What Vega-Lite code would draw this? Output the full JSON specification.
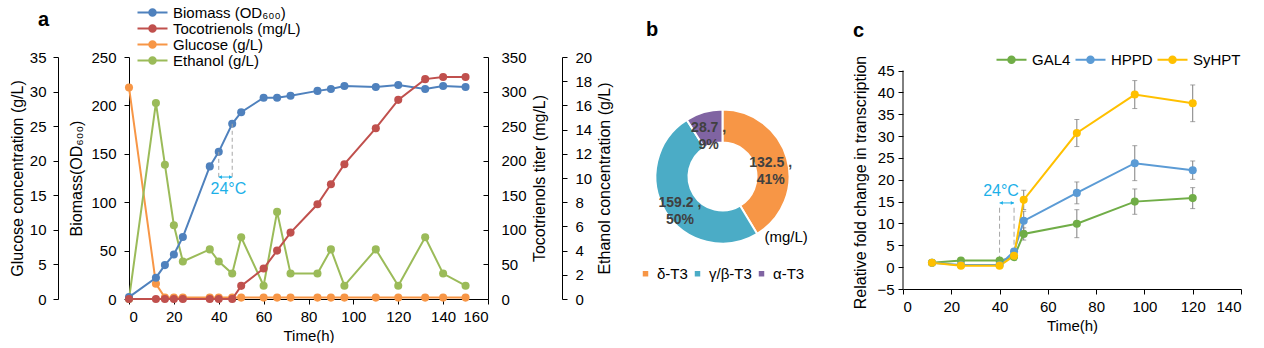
{
  "$schema": "https://vega.github.io/schema/vega-lite/v6.json",
  "padding": {"left": 9, "top": 5, "right": 0, "bottom": 0},
  "config": {
    "font": "Liberation Sans",
    "view": {"stroke": null},
    "axis": {"grid": false, "domainColor": "#000", "tickColor": "#000", "labelColor": "#000", "titleColor": "#000", "labelFontSize": 15, "titleFontSize": 15, "titleFontWeight": "normal", "tickSize": 5, "labelPadding": 5, "domainWidth": 1, "tickWidth": 1},
    "axisY": {"titleFontSize": 16},
    "legend": {"labelFontSize": 15, "labelColor": "#000", "padding": 0},
    "title": {"color": "#000"}
  },
  "spacing": 25,
  "resolve": {"scale": {"color": "independent"}, "legend": {"color": "independent"}},
  "hconcat": [
    {
      "width": 359, "height": 242,
      "title": {"text": "a", "anchor": "start", "frame": "group", "fontSize": 20, "fontWeight": "bold", "offset": -25, "dx": -91},
      "data": {"values": [
        {"s": "Biomass (OD₆₀₀)", "t": 0, "v": 2}, {"s": "Biomass (OD₆₀₀)", "t": 12, "v": 22}, {"s": "Biomass (OD₆₀₀)", "t": 16, "v": 35}, {"s": "Biomass (OD₆₀₀)", "t": 20, "v": 46}, {"s": "Biomass (OD₆₀₀)", "t": 24, "v": 64}, {"s": "Biomass (OD₆₀₀)", "t": 36, "v": 137}, {"s": "Biomass (OD₆₀₀)", "t": 40, "v": 152}, {"s": "Biomass (OD₆₀₀)", "t": 46, "v": 181}, {"s": "Biomass (OD₆₀₀)", "t": 50, "v": 193}, {"s": "Biomass (OD₆₀₀)", "t": 60, "v": 208}, {"s": "Biomass (OD₆₀₀)", "t": 66, "v": 208}, {"s": "Biomass (OD₆₀₀)", "t": 72, "v": 210}, {"s": "Biomass (OD₆₀₀)", "t": 84, "v": 215}, {"s": "Biomass (OD₆₀₀)", "t": 90, "v": 217}, {"s": "Biomass (OD₆₀₀)", "t": 96, "v": 220}, {"s": "Biomass (OD₆₀₀)", "t": 110, "v": 219}, {"s": "Biomass (OD₆₀₀)", "t": 120, "v": 221}, {"s": "Biomass (OD₆₀₀)", "t": 132, "v": 217}, {"s": "Biomass (OD₆₀₀)", "t": 140, "v": 220}, {"s": "Biomass (OD₆₀₀)", "t": 150, "v": 219},
        {"s": "Tocotrienols (mg/L)", "t": 0, "v": 0}, {"s": "Tocotrienols (mg/L)", "t": 12, "v": 0}, {"s": "Tocotrienols (mg/L)", "t": 16, "v": 0}, {"s": "Tocotrienols (mg/L)", "t": 20, "v": 0}, {"s": "Tocotrienols (mg/L)", "t": 24, "v": 0}, {"s": "Tocotrienols (mg/L)", "t": 36, "v": 0}, {"s": "Tocotrienols (mg/L)", "t": 40, "v": 0}, {"s": "Tocotrienols (mg/L)", "t": 46, "v": 0}, {"s": "Tocotrienols (mg/L)", "t": 50, "v": 19}, {"s": "Tocotrienols (mg/L)", "t": 60, "v": 44}, {"s": "Tocotrienols (mg/L)", "t": 66, "v": 70}, {"s": "Tocotrienols (mg/L)", "t": 72, "v": 96}, {"s": "Tocotrienols (mg/L)", "t": 84, "v": 137}, {"s": "Tocotrienols (mg/L)", "t": 90, "v": 166}, {"s": "Tocotrienols (mg/L)", "t": 96, "v": 195}, {"s": "Tocotrienols (mg/L)", "t": 110, "v": 247}, {"s": "Tocotrienols (mg/L)", "t": 120, "v": 288}, {"s": "Tocotrienols (mg/L)", "t": 132, "v": 318}, {"s": "Tocotrienols (mg/L)", "t": 140, "v": 321}, {"s": "Tocotrienols (mg/L)", "t": 150, "v": 321},
        {"s": "Glucose (g/L)", "t": 0, "v": 30.6}, {"s": "Glucose (g/L)", "t": 12, "v": 2.2}, {"s": "Glucose (g/L)", "t": 16, "v": 0.2}, {"s": "Glucose (g/L)", "t": 20, "v": 0.2}, {"s": "Glucose (g/L)", "t": 24, "v": 0.2}, {"s": "Glucose (g/L)", "t": 36, "v": 0.2}, {"s": "Glucose (g/L)", "t": 40, "v": 0.2}, {"s": "Glucose (g/L)", "t": 46, "v": 0.2}, {"s": "Glucose (g/L)", "t": 50, "v": 0.2}, {"s": "Glucose (g/L)", "t": 60, "v": 0.2}, {"s": "Glucose (g/L)", "t": 66, "v": 0.2}, {"s": "Glucose (g/L)", "t": 72, "v": 0.2}, {"s": "Glucose (g/L)", "t": 84, "v": 0.2}, {"s": "Glucose (g/L)", "t": 90, "v": 0.2}, {"s": "Glucose (g/L)", "t": 96, "v": 0.2}, {"s": "Glucose (g/L)", "t": 110, "v": 0.2}, {"s": "Glucose (g/L)", "t": 120, "v": 0.2}, {"s": "Glucose (g/L)", "t": 132, "v": 0.2}, {"s": "Glucose (g/L)", "t": 140, "v": 0.2}, {"s": "Glucose (g/L)", "t": 150, "v": 0.2},
        {"s": "Ethanol (g/L)", "t": 0, "v": 0}, {"s": "Ethanol (g/L)", "t": 12, "v": 16.2}, {"s": "Ethanol (g/L)", "t": 16, "v": 11.1}, {"s": "Ethanol (g/L)", "t": 20, "v": 6.1}, {"s": "Ethanol (g/L)", "t": 24, "v": 3.1}, {"s": "Ethanol (g/L)", "t": 36, "v": 4.1}, {"s": "Ethanol (g/L)", "t": 40, "v": 3.1}, {"s": "Ethanol (g/L)", "t": 46, "v": 2.1}, {"s": "Ethanol (g/L)", "t": 50, "v": 5.1}, {"s": "Ethanol (g/L)", "t": 60, "v": 1.1}, {"s": "Ethanol (g/L)", "t": 66, "v": 7.2}, {"s": "Ethanol (g/L)", "t": 72, "v": 2.1}, {"s": "Ethanol (g/L)", "t": 84, "v": 2.1}, {"s": "Ethanol (g/L)", "t": 90, "v": 4.1}, {"s": "Ethanol (g/L)", "t": 96, "v": 1.1}, {"s": "Ethanol (g/L)", "t": 110, "v": 4.1}, {"s": "Ethanol (g/L)", "t": 120, "v": 1.1}, {"s": "Ethanol (g/L)", "t": 132, "v": 5.1}, {"s": "Ethanol (g/L)", "t": 140, "v": 2.1}, {"s": "Ethanol (g/L)", "t": 150, "v": 1.1}
      ]},
      "encoding": {
        "x": {"field": "t", "type": "quantitative", "scale": {"domain": [0, 160], "nice": false}, "axis": {"values": [0, 20, 40, 60, 80, 100, 120, 140, 160], "title": "Time(h)", "titlePadding": 4}}
      },
      "layer": [
        {
          "transform": [{"filter": "datum.s === 'Glucose (g/L)'"}],
          "encoding": {"y": {"field": "v", "type": "quantitative", "scale": {"domain": [0, 35], "nice": false}, "axis": {"orient": "left", "offset": 71, "values": [0, 5, 10, 15, 20, 25, 30, 35], "title": "Glucose concentration (g/L)", "labelPadding": 7, "titlePadding": 4}}},
          "layer": [
            {"mark": {"type": "line", "color": "#F79646", "strokeWidth": 2}},
            {"mark": {"type": "point", "filled": true, "opacity": 1, "size": 65},
             "encoding": {"color": {"field": "s", "type": "nominal", "scale": {"domain": ["Biomass (OD₆₀₀)", "Tocotrienols (mg/L)", "Glucose (g/L)", "Ethanol (g/L)"], "range": ["#4F81BD", "#C0504D", "#F79646", "#9BBB59"]},
               "legend": {"title": null, "orient": "none", "legendX": 16, "legendY": -52, "symbolType": "M-3,-0.2H3V0.2H-3Z M-0.85,0A0.85,0.85 0 1,1 0.85,0A0.85,0.85 0 1,1 -0.85,0Z", "symbolSize": 100, "symbolStrokeWidth": 0, "labelOffset": 13, "rowPadding": 0, "labelFontSize": 15}}}}
          ]
        },
        {
          "transform": [{"filter": "datum.s === 'Ethanol (g/L)'"}],
          "encoding": {"y": {"field": "v", "type": "quantitative", "scale": {"domain": [0, 20], "nice": false}, "axis": {"orient": "right", "offset": 74, "values": [0, 2, 4, 6, 8, 10, 12, 14, 16, 18, 20], "title": "Ethanol concentration (g/L)", "labelPadding": 8, "titlePadding": 5, "titleAngle": 270, "titleBaseline": "top"}}},
          "layer": [
            {"mark": {"type": "line", "color": "#9BBB59", "strokeWidth": 2}},
            {"mark": {"type": "point", "filled": true, "opacity": 1, "size": 65},
             "encoding": {"color": {"field": "s", "type": "nominal", "scale": {"domain": ["Biomass (OD₆₀₀)", "Tocotrienols (mg/L)", "Glucose (g/L)", "Ethanol (g/L)"], "range": ["#4F81BD", "#C0504D", "#F79646", "#9BBB59"]}}}}
          ]
        },
        {
          "layer": [
            {"transform": [{"filter": "datum.s === 'Biomass (OD₆₀₀)'"}], "mark": {"type": "line", "color": "#4F81BD", "strokeWidth": 2},
             "encoding": {"y": {"field": "v", "type": "quantitative", "scale": {"domain": [0, 250], "nice": false}, "axis": {"orient": "left", "values": [0, 50, 100, 150, 200, 250], "title": "Biomass(OD₆₀₀)", "labelPadding": 8, "titlePadding": 6}}}},
            {"transform": [{"filter": "datum.s === 'Biomass (OD₆₀₀)'"}], "mark": {"type": "point", "filled": true, "opacity": 1, "size": 65},
             "encoding": {"y": {"field": "v", "type": "quantitative", "scale": {"domain": [0, 250], "nice": false}},
               "color": {"field": "s", "type": "nominal", "scale": {"domain": ["Biomass (OD₆₀₀)", "Tocotrienols (mg/L)", "Glucose (g/L)", "Ethanol (g/L)"], "range": ["#4F81BD", "#C0504D", "#F79646", "#9BBB59"]}}}},
            {"data": {"values": [{"kind": "dash", "t": 40, "v": 152, "v2": 126}, {"kind": "dash", "t": 46, "v": 181, "v2": 126}]},
             "mark": {"type": "rule", "color": "#A6A6A6", "strokeDash": [4, 3]},
             "encoding": {"y": {"field": "v", "type": "quantitative", "scale": {"domain": [0, 250], "nice": false}}, "y2": {"field": "v2"}}},
            {"data": {"values": [{"kind": "arrow", "t": 40, "t2": 46, "v": 126}]},
             "mark": {"type": "rule", "color": "#1CB0E8", "strokeWidth": 1},
             "encoding": {"x2": {"field": "t2"}, "y": {"field": "v", "type": "quantitative", "scale": {"domain": [0, 250], "nice": false}}}},
            {"data": {"values": [{"kind": "head", "t": 40.7, "v": 126}]},
             "mark": {"type": "point", "shape": "triangle-left", "filled": true, "opacity": 1, "size": 14, "color": "#1CB0E8"},
             "encoding": {"y": {"field": "v", "type": "quantitative", "scale": {"domain": [0, 250], "nice": false}}}},
            {"data": {"values": [{"kind": "head", "t": 45.3, "v": 126}]},
             "mark": {"type": "point", "shape": "triangle-right", "filled": true, "opacity": 1, "size": 14, "color": "#1CB0E8"},
             "encoding": {"y": {"field": "v", "type": "quantitative", "scale": {"domain": [0, 250], "nice": false}}}},
            {"data": {"values": [{"kind": "label", "t": 44.3, "v": 113.6, "txt": "24°C"}]},
             "mark": {"type": "text", "color": "#1CB0E8", "fontSize": 16},
             "encoding": {"y": {"field": "v", "type": "quantitative", "scale": {"domain": [0, 250], "nice": false}}, "text": {"field": "txt"}}}
          ]
        },
        {
          "transform": [{"filter": "datum.s === 'Tocotrienols (mg/L)'"}],
          "encoding": {"y": {"field": "v", "type": "quantitative", "scale": {"domain": [0, 350], "nice": false}, "axis": {"orient": "right", "values": [0, 50, 100, 150, 200, 250, 300, 350], "title": "Tocotrienols titer (mg/L)", "tickSize": -5, "labelPadding": 18, "titlePadding": 5, "titleAngle": 270, "titleBaseline": "top"}}},
          "layer": [
            {"mark": {"type": "line", "color": "#C0504D", "strokeWidth": 2}},
            {"mark": {"type": "point", "filled": true, "opacity": 1, "size": 65},
             "encoding": {"color": {"field": "s", "type": "nominal", "scale": {"domain": ["Biomass (OD₆₀₀)", "Tocotrienols (mg/L)", "Glucose (g/L)", "Ethanol (g/L)"], "range": ["#4F81BD", "#C0504D", "#F79646", "#9BBB59"]}}}}
          ]
        }
      ],
      "resolve": {"scale": {"y": "independent"}, "axis": {"y": "independent"}}
    },
    {
      "spacing": 44,
      "resolve": {"scale": {"color": "independent"}, "legend": {"color": "independent"}},
      "hconcat": [
        {
          "width": 157, "height": 239,
          "title": {"text": "b", "anchor": "start", "frame": "group", "fontSize": 20, "fontWeight": "bold", "offset": 17, "dx": 2},
          "data": {"values": [
            {"k": "δ-T3", "v": 132.5, "lab": "132.5 ,\n41%", "i": 1},
            {"k": "γ/β-T3", "v": 159.2, "lab": "159.2 ,\n50%", "i": 2},
            {"k": "α-T3", "v": 28.7, "lab": "28.7 ,\n9%", "i": 3}
          ]},
          "layer": [
            {"mark": {"type": "arc", "innerRadius": 34, "outerRadius": 67, "stroke": "#ffffff", "strokeWidth": 2},
             "encoding": {
               "theta": {"field": "v", "type": "quantitative", "stack": true},
               "order": {"field": "i", "type": "quantitative"},
               "color": {"field": "k", "type": "nominal", "scale": {"domain": ["δ-T3", "γ/β-T3", "α-T3"], "range": ["#F79646", "#4BACC6", "#8064A2"]},
               "legend": {"title": null, "orient": "none", "legendX": -6, "legendY": 209, "direction": "horizontal", "symbolType": "square", "symbolSize": 30, "symbolStrokeWidth": 0, "labelFontSize": 15, "labelOffset": 4, "columnPadding": 2}}}},
            {"mark": {"type": "text", "radius": 50, "fontSize": 14, "fontWeight": "bold", "color": "#404040", "lineBreak": "\n", "lineHeight": 17},
             "encoding": {
               "theta": {"field": "v", "type": "quantitative", "stack": true},
               "order": {"field": "i", "type": "quantitative"},
               "text": {"field": "lab"}}},
            {"data": {"values": [{"v": 119, "lab": "(mg/L)"}]},
             "mark": {"type": "text", "fontSize": 15, "radius": 88, "color": "#000"},
             "encoding": {"theta": {"field": "v", "type": "quantitative", "stack": null}, "text": {"field": "lab"}}}
          ]
        },
        {
          "width": 338, "height": 232,
          "title": {"text": "c", "anchor": "start", "frame": "group", "fontSize": 20, "fontWeight": "bold", "offset": 11.5, "dx": -50},
          "data": {"values": [
            {"g": "GAL4", "t": 12, "v": 1.0, "e": 0.3}, {"g": "GAL4", "t": 24, "v": 1.5, "e": 0.3}, {"g": "GAL4", "t": 40, "v": 1.5, "e": 0.3}, {"g": "GAL4", "t": 46, "v": 2.3, "e": 0.4}, {"g": "GAL4", "t": 50, "v": 7.6, "e": 1.4}, {"g": "GAL4", "t": 72, "v": 9.95, "e": 3.2}, {"g": "GAL4", "t": 96, "v": 15.0, "e": 2.9}, {"g": "GAL4", "t": 120, "v": 15.8, "e": 2.4},
            {"g": "HPPD", "t": 12, "v": 1.0, "e": 0.2}, {"g": "HPPD", "t": 24, "v": 0.5, "e": 0.2}, {"g": "HPPD", "t": 40, "v": 0.5, "e": 0.2}, {"g": "HPPD", "t": 46, "v": 3.6, "e": 0.5}, {"g": "HPPD", "t": 50, "v": 10.6, "e": 2.2}, {"g": "HPPD", "t": 72, "v": 17.0, "e": 2.5}, {"g": "HPPD", "t": 96, "v": 23.8, "e": 4.0}, {"g": "HPPD", "t": 120, "v": 22.2, "e": 2.1},
            {"g": "SyHPT", "t": 12, "v": 1.0, "e": 0.2}, {"g": "SyHPT", "t": 24, "v": 0.35, "e": 0.2}, {"g": "SyHPT", "t": 40, "v": 0.35, "e": 0.2}, {"g": "SyHPT", "t": 46, "v": 2.6, "e": 0.5}, {"g": "SyHPT", "t": 50, "v": 15.4, "e": 2.2}, {"g": "SyHPT", "t": 72, "v": 30.7, "e": 3.1}, {"g": "SyHPT", "t": 96, "v": 39.5, "e": 3.2}, {"g": "SyHPT", "t": 120, "v": 37.5, "e": 4.2}
          ]},
          "encoding": {
            "x": {"field": "t", "type": "quantitative", "scale": {"domain": [0, 140], "nice": false}, "axis": {"values": [0, 20, 40, 60, 80, 100, 120, 140], "title": "Time(h)", "titlePadding": 4}},
            "y": {"field": "v", "type": "quantitative", "scale": {"domain": [-5, 48.1], "nice": false, "zero": false}, "axis": {"values": [-5, 0, 5, 10, 15, 20, 25, 30, 35, 40, 45], "title": "Relative fold change in transcription", "labelPadding": 4, "titlePadding": 8, "domain": false, "titleY": 125}}
          },
          "layer": [
            {"data": {"values": [{"kind": "axisline", "t": 0, "v": -5, "v2": 45}]},
             "mark": {"type": "rule", "color": "#000", "strokeWidth": 1},
             "encoding": {"y2": {"field": "v2"}}},
            {"data": {"values": [{"kind": "dash", "t": 40, "v": 13.6, "v2": 1.5}, {"kind": "dash", "t": 46, "v": 13.6, "v2": 2.5}]},
             "mark": {"type": "rule", "color": "#A6A6A6", "strokeDash": [5, 3]},
             "encoding": {"y2": {"field": "v2"}}},
            {"mark": {"type": "errorbar", "ticks": true, "color": "#7F7F7F"},
             "encoding": {"y": {"field": "v", "type": "quantitative"}, "yError": {"field": "e"}}},
            {"transform": [{"filter": "datum.g === 'GAL4'"}], "mark": {"type": "line", "strokeWidth": 2, "color": "#70AD47"}},
            {"transform": [{"filter": "datum.g === 'HPPD'"}], "mark": {"type": "line", "strokeWidth": 2, "color": "#5B9BD5"}},
            {"transform": [{"filter": "datum.g === 'SyHPT'"}], "mark": {"type": "line", "strokeWidth": 2, "color": "#FFC000"}},
            {"mark": {"type": "point", "filled": true, "opacity": 1, "size": 65},
             "encoding": {"color": {"field": "g", "type": "nominal", "scale": {"domain": ["GAL4", "HPPD", "SyHPT"], "range": ["#70AD47", "#5B9BD5", "#FFC000"]},
               "legend": {"title": null, "orient": "none", "legendX": 101, "legendY": -5, "direction": "horizontal", "symbolType": "M-3,-0.2H3V0.2H-3Z M-0.85,0A0.85,0.85 0 1,1 0.85,0A0.85,0.85 0 1,1 -0.85,0Z", "symbolSize": 100, "symbolStrokeWidth": 0, "labelOffset": 13, "columnPadding": 4, "labelFontSize": 15}}}},
            {"data": {"values": [{"kind": "arrow", "t": 40, "t2": 46, "v": 14.7}]},
             "mark": {"type": "rule", "color": "#1CB0E8", "strokeWidth": 1},
             "encoding": {"x2": {"field": "t2"}}},
            {"data": {"values": [{"kind": "head", "t": 40.7, "v": 14.7}]},
             "mark": {"type": "point", "shape": "triangle-left", "filled": true, "opacity": 1, "size": 14, "color": "#1CB0E8"}},
            {"data": {"values": [{"kind": "head", "t": 45.3, "v": 14.7}]},
             "mark": {"type": "point", "shape": "triangle-right", "filled": true, "opacity": 1, "size": 14, "color": "#1CB0E8"}},
            {"data": {"values": [{"kind": "label", "t": 40.6, "v": 17.5, "txt": "24°C"}]},
             "mark": {"type": "text", "color": "#1CB0E8", "fontSize": 16},
             "encoding": {"text": {"field": "txt"}}}
          ]
        }
      ]
    }
  ]
}
